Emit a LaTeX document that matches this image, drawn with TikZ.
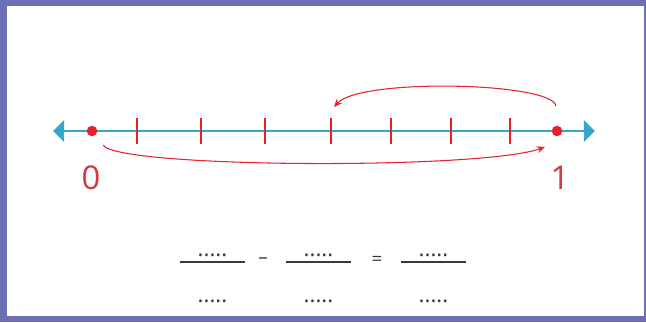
\documentclass[tikz,border=0pt]{standalone}
\usepackage{fontspec}
\setmainfont{Open Sans}
\usetikzlibrary{arrows.meta}

\definecolor{framepurple}{HTML}{6B6FB4}
\definecolor{lineblue}{HTML}{36A6C9}
\definecolor{markred}{HTML}{E8202A}
\definecolor{digitred}{HTML}{D9353E}
\definecolor{inkgray}{HTML}{3A3A3A}

\begin{document}
\begin{tikzpicture}[
    x=0.03cm, y=-0.03cm,
    numline/.style={{Triangle[length=9.4pt, width=18pt]}-{Triangle[length=9.4pt, width=18pt]}, lineblue, line width=2.5pt},
    tickmark/.style={markred, line width=1.7pt},
    dot/.style={circle, fill=markred, inner sep=0pt, minimum size=9pt},
    jump/.style={-{Stealth[length=7pt, width=6pt]}, markred, line width=0.9pt},
    digit/.style={font=\fontsize{28}{30}\selectfont, text=digitred},
    blank/.style={font=\fontsize{19}{19}\selectfont, text=inkgray, inner sep=0pt, anchor=base},
    sign/.style={font=\fontsize{16}{16}\selectfont, text=inkgray},
    fracbar/.style={inkgray, line width=1.6pt}
]
\useasboundingbox (0,0) rectangle (646,322);

% Frame
\fill[framepurple] (0,0) rectangle (646,322);
\fill[white] (7,6) rectangle (644,316);

% Number line
\coordinate (lend) at (53,131);
\coordinate (rend) at (595,131);
\draw[numline] (lend) -- (rend);

\foreach \x [count=\i] in {137,201,265,331,391,451,510} {
    \coordinate (t\i) at (\x,118);
    \coordinate (b\i) at (\x,144);
    \draw[tickmark] (t\i) -- (b\i);
}

\node[dot] (p0) at (92,131) {};
\node[dot] (p1) at (557,131) {};

\node[digit] (n0) at (91,178) {0};
\node[digit] (n1) at (560,178) {1};

% Jumps
\coordinate (s1) at (556,106);
\coordinate (e1) at (334,107);
\draw[jump] (s1) .. controls (552,82) and (360,78) .. (e1);

\coordinate (s0) at (103,145);
\coordinate (e0) at (545,147);
\draw[jump] (s0) .. controls (115,168) and (480,170) .. (e0);

% Fractions to fill in
\foreach \cx [count=\i] in {212.5,318.5,433.5} {
    \coordinate (fl\i) at (\cx-32.5,262);
    \coordinate (fr\i) at (\cx+32.5,262);
    \draw[fracbar] (fl\i) -- (fr\i);
    \node[blank] (top\i) at (\cx,256) {.....};
    \node[blank] (bot\i) at (\cx,302) {.....};
}

\node[sign] (minus) at (263,261) {--};
\node[sign] (equals) at (377,261) {=};

\end{tikzpicture}
\end{document}
